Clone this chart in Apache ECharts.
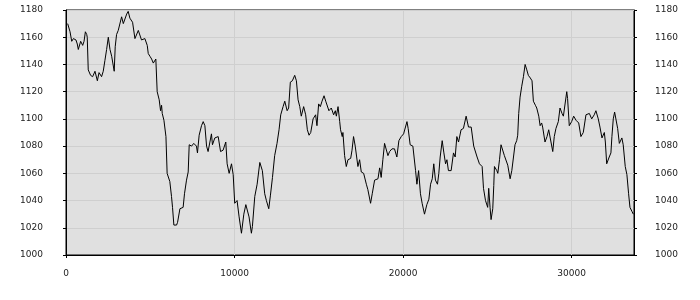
<!DOCTYPE html>
<html>
<head>
<meta charset="utf-8">
<script src="https://cdn.jsdelivr.net/npm/echarts@6/dist/echarts.min.js"></script>
<style>html,body{margin:0;padding:0;background:#fff;}#c{width:700px;height:300px;}</style>
</head>
<body>
<div id="c"></div>
<script>
var xTickValues = [0, 10000, 20000, 30000];
var yTickValues = [1000, 1020, 1040, 1060, 1080, 1100, 1120, 1140, 1160, 1180];
var xs = [100,240,340,440,590,670,730,870,990,1070,1150,1230,1260,1320,1460,1580,1720,1860,1960,2110,2210,2310,2410,2510,2610,2710,2860,2920,3000,3100,3200,3300,3400,3600,3690,3790,3950,4090,4290,4390,4480,4680,4820,4880,4980,5080,5180,5270,5330,5410,5530,5610,5670,5710,5810,5930,6000,6160,6260,6320,6400,6560,6620,6760,6950,7030,7150,7250,7310,7450,7580,7740,7800,7900,8040,8140,8240,8340,8430,8530,8630,8690,8830,9030,9170,9320,9480,9560,9680,9820,9920,10010,10150,10270,10410,10550,10670,10750,10860,11000,11060,11200,11340,11500,11650,11790,11890,12030,12130,12250,12380,12520,12640,12740,12880,12980,13120,13210,13310,13430,13570,13670,13770,13870,13960,14100,14220,14320,14420,14520,14660,14810,14890,14990,15090,15190,15310,15410,15500,15600,15740,15880,15980,16040,16140,16240,16290,16390,16430,16530,16630,16730,16790,16890,16970,17060,17160,17320,17420,17520,17660,17820,17910,18070,18170,18310,18410,18510,18610,18700,18800,18900,19000,19100,19200,19340,19490,19630,19750,19890,20030,20230,20300,20420,20580,20740,20820,20920,21030,21130,21270,21410,21530,21630,21730,21820,21920,22040,22120,22200,22320,22420,22520,22600,22690,22850,22990,23090,23190,23290,23440,23580,23740,23880,24040,24190,24290,24390,24530,24690,24770,24890,25020,25080,25160,25220,25320,25380,25420,25560,25620,25720,25810,25910,26010,26110,26210,26350,26450,26550,26640,26740,26800,26860,26940,27040,27140,27240,27340,27430,27550,27650,27730,27850,27930,28050,28130,28220,28280,28420,28540,28640,28740,28880,28970,29070,29210,29310,29430,29510,29710,29760,29860,30000,30120,30260,30360,30420,30550,30690,30770,30850,31050,31190,31340,31440,31580,31680,31800,31940,32000,32080,32230,32330,32390,32470,32550,32630,32730,32830,32980,33060,33180,33280,33380,33460,33580,33660];
var ys = [1170,1164,1157,1159,1158,1155,1151,1157,1154,1157,1164,1162,1160,1136,1132,1131,1135,1128,1134,1131,1135,1143,1151,1160,1151,1146,1135,1153,1162,1165,1164,1175,1170,1177,1179,1174,1171,1159,1165,1165,1158,1159,1154,1148,1146,1144,1141,1140,1144,1120,1114,1106,1110,1104,1099,1087,1060,1054,1043,1035,1022,1022,1024,1034,1035,1045,1055,1061,1081,1080,1082,1080,1075,1088,1095,1098,1095,1080,1076,1076,1089,1081,1086,1087,1076,1077,1083,1067,1060,1067,1059,1038,1040,1028,1016,1030,1037,1037,1028,1016,1021,1043,1052,1068,1062,1045,1040,1034,1044,1057,1073,1082,1092,1103,1109,1113,1106,1108,1127,1128,1132,1128,1114,1109,1102,1109,1103,1092,1088,1090,1100,1103,1095,1111,1109,1113,1117,1113,1114,1106,1108,1103,1106,1102,1109,1098,1092,1087,1090,1073,1065,1070,1071,1071,1077,1087,1080,1065,1070,1061,1060,1052,1048,1038,1045,1055,1054,1056,1064,1057,1070,1082,1082,1073,1076,1078,1078,1072,1084,1087,1089,1098,1093,1081,1080,1062,1052,1062,1045,1038,1030,1037,1041,1052,1056,1067,1055,1052,1060,1072,1084,1075,1067,1070,1062,1062,1075,1072,1087,1083,1092,1093,1102,1094,1094,1080,1081,1072,1067,1065,1049,1040,1035,1049,1035,1026,1034,1051,1065,1062,1060,1070,1081,1082,1073,1072,1066,1056,1062,1072,1081,1084,1088,1104,1116,1124,1131,1140,1136,1132,1130,1128,1113,1110,1108,1102,1095,1097,1094,1083,1087,1092,1092,1076,1087,1093,1098,1108,1104,1102,1120,1115,1095,1098,1102,1099,1100,1097,1087,1090,1090,1103,1104,1100,1103,1106,1100,1094,1086,1090,1083,1067,1072,1075,1087,1100,1105,1105,1093,1082,1086,1081,1065,1059,1045,1035,1032,1030];

var pts = xs.map(function (x, i) { return [x, ys[i]]; });
var plain = function (v) { return String(v); };
var labelFont = { fontFamily: 'DejaVu Sans', fontSize: 9, color: '#222', formatter: plain };

var chart = echarts.init(document.getElementById('c'), null, { renderer: 'canvas' });
chart.setOption({
  animation: false,
  backgroundColor: '#ffffff',
  grid: { left: 66, right: 66, top: 10, bottom: 45, show: true, backgroundColor: '#e0e0e0', borderColor: '#000', borderWidth: 1 },
  xAxis: {
    type: 'value', min: xTickValues[0], max: 33700, interval: 10000,
    axisLine: { show: true, lineStyle: { color: '#000', width: 1 } },
    axisTick: { show: true, length: 3, lineStyle: { color: '#000' } },
    axisLabel: Object.assign({ margin: 14, showMaxLabel: false }, labelFont),
    splitLine: { show: true, lineStyle: { color: '#cfcfcf', width: 1 } }
  },
  yAxis: [{
    type: 'value', position: 'left', min: yTickValues[0], max: yTickValues[yTickValues.length - 1], interval: 20,
    axisLine: { show: true, lineStyle: { color: '#000', width: 1 } },
    axisTick: { show: true, length: 3, lineStyle: { color: '#000' } },
    axisLabel: Object.assign({ margin: 23 }, labelFont),
    splitLine: { show: true, lineStyle: { color: '#cfcfcf', width: 1 } }
  }, {
    type: 'value', position: 'right', min: yTickValues[0], max: yTickValues[yTickValues.length - 1], interval: 20,
    axisLine: { show: true, lineStyle: { color: '#000', width: 1 } },
    axisTick: { show: true, length: 3, lineStyle: { color: '#000' } },
    axisLabel: Object.assign({ margin: 21 }, labelFont),
    splitLine: { show: false }
  }],
  series: [{
    type: 'line', data: pts, showSymbol: false, symbol: 'none',
    lineStyle: { color: '#000', width: 1 }, yAxisIndex: 0
  }]
});
</script>
</body>
</html>
